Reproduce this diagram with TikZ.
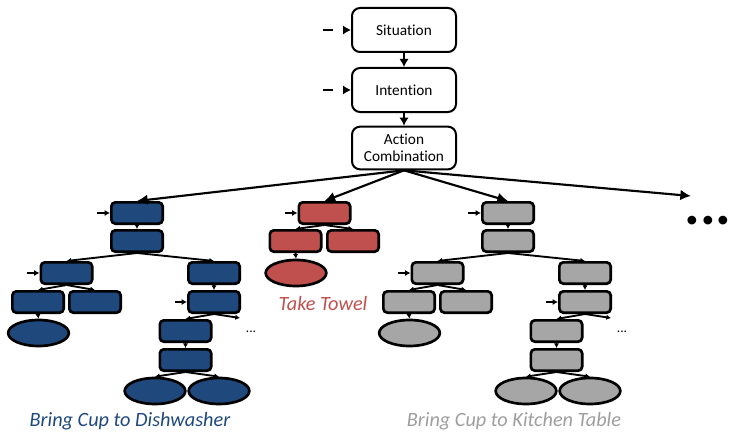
\documentclass[tikz,border=0pt]{standalone}
\usepackage{fontspec}
\setmainfont[Ligatures=NoCommon]{Carlito}
\usetikzlibrary{arrows.meta,shapes.geometric}
\definecolor{taskblue}{HTML}{1F497D}
\definecolor{taskred}{HTML}{C0504D}
\definecolor{taskgray}{HTML}{A6A6A6}
\tikzset{
  topbox/.style={draw,line width=1.5pt,rounded corners=6pt,minimum width=78pt,
    minimum height=33pt,align=center,inner sep=1pt,font=\fontsize{11.5}{13}\selectfont},
  act/.style={draw,line width=2pt,rounded corners=3pt,minimum width=38.5pt,
    minimum height=16pt,inner sep=0pt},
  leaf/.style={draw,line width=2pt,ellipse,minimum width=45.5pt,
    minimum height=19.5pt,inner sep=0pt},
  flow/.style={line width=1.5pt,-{Latex[length=6pt,width=7pt]}},
  fan/.style={line width=1.6pt,-{Latex[length=8pt,width=8pt]}},
  sub/.style={line width=1.4pt,-{Latex[length=3.5pt,width=4pt]}},
  feed/.style={line width=1.4pt,-{Latex[length=4pt,width=4.5pt]}},
  input/.style={line width=1.6pt,dash pattern=on 7.5pt off 10pt,-{Latex[length=6pt,width=7pt]}},
  tasklabel/.style={font=\fontsize{15.2}{17}\selectfont\itshape},
}
\begin{document}
\begin{tikzpicture}[x=0.75pt,y=-0.75pt]
  \useasboundingbox (0,0) rectangle (731,435);

  % upper chain
  \node[topbox] (sit) at (404,30) {Situation};
  \node[topbox] (int) at (404,90) {Intention};
  \node[topbox,minimum height=32pt] (ac) at (404,148) {Action\\Combination};
  \coordinate (sit-in) at (323,30);
  \coordinate (int-in) at (323,90);
  \draw[input] (sit-in) -- (sit.west);
  \draw[input] (int-in) -- (int.west);
  \draw[flow] (sit.south) -- (int.north);
  \draw[flow] (int.south) -- (ac.north);

  % take towel
  \node[act,fill=taskred] (r1) at (324.5,213) {};
  \node[act,fill=taskred] (r2) at (295.5,241) {};
  \node[act,fill=taskred] (r3) at (353,241) {};
  \node[leaf,fill=taskred] (r4) at (296,273) {};
  \coordinate (r-in) at (285,213);
  \draw[feed] (r-in) -- (r1.west);
  \draw[sub] (r1.south) -- (r2.north);
  \draw[sub] (r1.south) -- (r3.north);
  \draw[sub] (r2.south) -- (r4.north);
  \node[tasklabel,text=taskred] (r-label) at (323,304) {Take Towel};

  % bring cup (two targets)
  \foreach \t/\dx/\col in {b/0/taskblue, g/371/taskgray} {
    \node[act,fill=\col] (\t1) at ({137+\dx},213) {};
    \node[act,fill=\col] (\t2) at ({137+\dx},241) {};
    \node[act,fill=\col] (\t3) at ({66.5+\dx},273) {};
    \node[act,fill=\col] (\t4) at ({38+\dx},302) {};
    \node[act,fill=\col] (\t5) at ({95+\dx},302) {};
    \node[leaf,fill=\col] (\t6) at ({38.5+\dx},333) {};
    \node[act,fill=\col] (\t7) at ({214+\dx},273) {};
    \node[act,fill=\col] (\t8) at ({214+\dx},302) {};
    \node[act,fill=\col] (\t9) at ({185.5+\dx},331) {};
    \node[act,fill=\col] (\t10) at ({185.5+\dx},360) {};
    \node[leaf,fill=\col] (\t11) at ({155+\dx},391) {};
    \node[leaf,fill=\col] (\t12) at ({219+\dx},391) {};
    \node[font=\fontsize{10}{10}\selectfont] (\t-dots) at ({251+\dx},332) {...};
    \coordinate (\t-in1) at ({97+\dx},213);
    \coordinate (\t-in3) at ({27+\dx},273);
    \coordinate (\t-in8) at ({175+\dx},302);
    \coordinate (\t-out) at ({240+\dx},318);
    \draw[feed] (\t-in1) -- (\t1.west);
    \draw[feed] (\t-in3) -- (\t3.west);
    \draw[feed] (\t-in8) -- (\t8.west);
    \draw[sub] (\t1.south) -- (\t2.north);
    \draw[sub] (\t2.south) -- (\t3.north);
    \draw[sub] (\t2.south) -- (\t7.north);
    \draw[sub] (\t3.south) -- (\t4.north);
    \draw[sub] (\t3.south) -- (\t5.north);
    \draw[sub] (\t4.south) -- (\t6.north);
    \draw[sub] (\t7.south) -- (\t8.north);
    \draw[sub] (\t8.south) -- (\t9.north);
    \draw[sub] (\t8.south) -- (\t-out);
    \draw[sub] (\t9.south) -- (\t10.north);
    \draw[sub] (\t10.south) -- (\t11.north);
    \draw[sub] (\t10.south) -- (\t12.north);
  }
  \node[tasklabel,text=taskblue] (b-label) at (130,421) {Bring Cup to Dishwasher};
  \node[tasklabel,text=taskgray!95!black] (g-label) at (514,421) {Bring Cup to Kitchen Table};

  % fan out of the combination
  \coordinate (more) at (691,196);
  \node[font=\fontsize{44}{44}\selectfont\bfseries,anchor=base] (more-dots) at (708,224) {...};
  \draw[fan] (ac.south) -- (b1.north);
  \draw[fan] (ac.south) -- (r1.north);
  \draw[fan] (ac.south) -- (g1.north);
  \draw[fan] (ac.south) -- (more);
\end{tikzpicture}
\end{document}
